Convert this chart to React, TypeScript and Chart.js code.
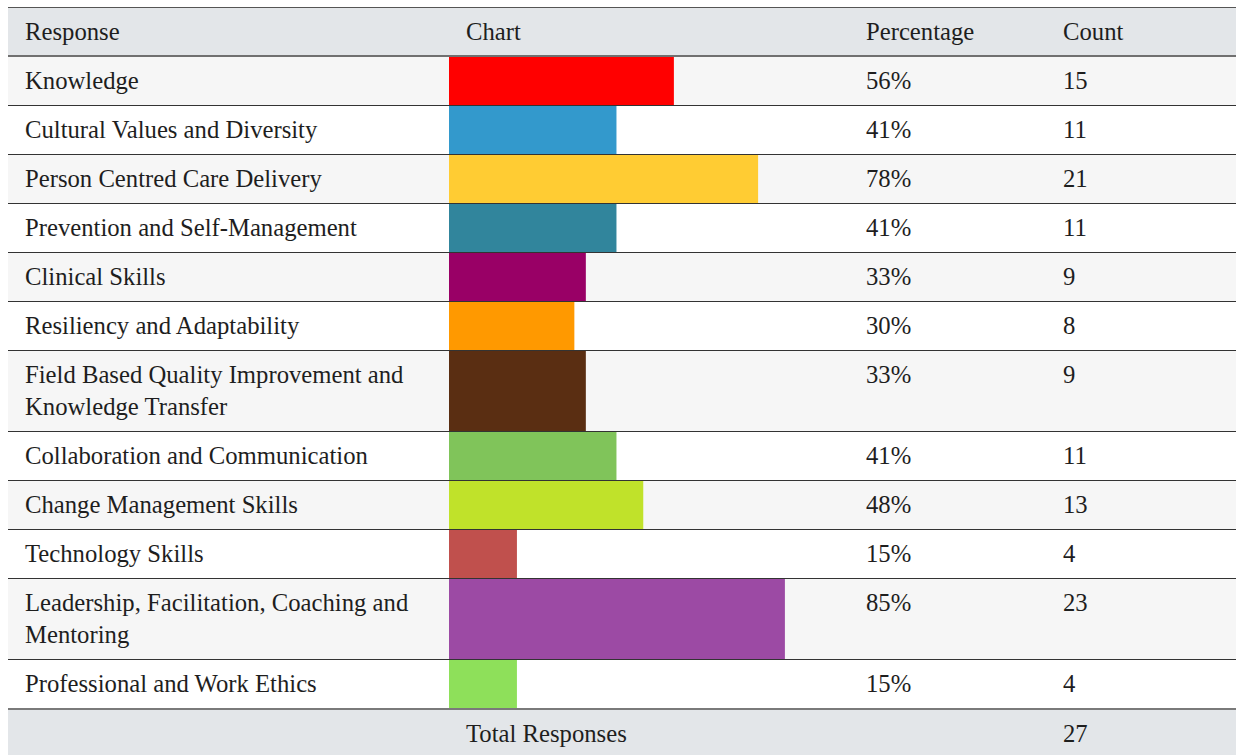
import React, { useEffect, useRef } from "react";
import { Chart, registerables } from "chart.js";

Chart.register(...registerables);

const headers = ["Response", "Chart", "Percentage", "Count"];
const responses = [
  "Knowledge",
  "Cultural Values and Diversity",
  "Person Centred Care Delivery",
  "Prevention and Self-Management",
  "Clinical Skills",
  "Resiliency and Adaptability",
  "Field Based Quality Improvement and Knowledge Transfer",
  "Collaboration and Communication",
  "Change Management Skills",
  "Technology Skills",
  "Leadership, Facilitation, Coaching and Mentoring",
  "Professional and Work Ethics",
];
const percentages = [56, 41, 78, 41, 33, 30, 33, 41, 48, 15, 85, 15];
const counts = [15, 11, 21, 11, 9, 8, 9, 11, 13, 4, 23, 4];
const barColors = [
  "#ff0000",
  "#3399cc",
  "#ffcc33",
  "#31859c",
  "#990066",
  "#ff9900",
  "#5a2e12",
  "#80c45a",
  "#c0e22a",
  "#c0504d",
  "#9c4aa4",
  "#8ee05a",
];
const totalLabel = "Total Responses";
const totalCount = 27;

// value axis range: the reference bars start with a small stub before 0%
const X_MIN = -2.66;
const X_MAX = 100;

const FONT = '"Liberation Serif", Tinos, "DejaVu Serif"';
const COL_WIDTHS = [441, 400, 197, 190];
const TEXT_COLOR = "#1e1e1e";

function BarCell({ value, color }: { value: number; color: string }) {
  const ref = useRef<HTMLCanvasElement | null>(null);
  useEffect(() => {
    if (!ref.current) return;
    const chart = new Chart(ref.current, {
      type: "bar",
      data: {
        labels: [""],
        datasets: [
          {
            data: [value],
            backgroundColor: color,
            base: X_MIN,
            barPercentage: 1,
            categoryPercentage: 1,
            borderWidth: 0,
          } as any,
        ],
      },
      options: {
        indexAxis: "y",
        animation: false,
        responsive: true,
        maintainAspectRatio: false,
        events: [],
        layout: { padding: 0 },
        plugins: { legend: { display: false }, tooltip: { enabled: false } },
        scales: {
          x: { type: "linear", min: X_MIN, max: X_MAX, display: false },
          y: { display: false },
        },
      },
    });
    return () => chart.destroy();
  }, [value, color]);
  return (
    <div style={{ position: "absolute", left: 0, top: 0, bottom: 0, width: 393 }}>
      <canvas ref={ref} />
    </div>
  );
}

const cellText: React.CSSProperties = {
  boxSizing: "border-box",
  paddingLeft: 17,
  paddingRight: 12,
  paddingTop: 8,
  paddingBottom: 8,
  lineHeight: "32px",
  fontSize: "24.7px",
  fontFamily: FONT,
  color: TEXT_COLOR,
  position: "relative",
};

export default function App() {
  return (
    <div
      style={{
        position: "fixed",
        inset: 0,
        overflow: "hidden",
        background: "#ffffff",
        fontFamily: FONT,
      }}
    >
      <div
        style={{
          position: "absolute",
          left: 8,
          top: 7,
          width: 1228,
          borderTop: "1px solid #555555",
        }}
      >
        {/* header */}
        <div
          style={{
            display: "flex",
            background: "#e3e6e9",
            height: 49,
            boxSizing: "border-box",
            borderBottom: "2px solid #707070",
          }}
        >
          {headers.map((h, i) => (
            <div key={h} style={{ ...cellText, width: COL_WIDTHS[i] }}>
              {h}
            </div>
          ))}
        </div>
        {/* body */}
        {responses.map((r, i) => (
          <div
            key={r}
            style={{
              display: "flex",
              alignItems: "stretch",
              background: i % 2 === 0 ? "#f6f6f6" : "#ffffff",
              borderBottom: i === responses.length - 1 ? "none" : "1px solid #333333",
            }}
          >
            <div style={{ ...cellText, width: COL_WIDTHS[0] }}>{r}</div>
            <div style={{ position: "relative", width: COL_WIDTHS[1] }}>
              <BarCell value={percentages[i]} color={barColors[i]} />
            </div>
            <div style={{ ...cellText, width: COL_WIDTHS[2] }}>{percentages[i]}%</div>
            <div style={{ ...cellText, width: COL_WIDTHS[3] }}>{counts[i]}</div>
          </div>
        ))}
        {/* footer */}
        <div
          style={{
            display: "flex",
            background: "#e3e6e9",
            height: 60,
            boxSizing: "border-box",
            borderTop: "2px solid #7a7a7a",
          }}
        >
          <div style={{ ...cellText, width: COL_WIDTHS[0] }}></div>
          <div style={{ ...cellText, width: COL_WIDTHS[1] }}>{totalLabel}</div>
          <div style={{ ...cellText, width: COL_WIDTHS[2] }}></div>
          <div style={{ ...cellText, width: COL_WIDTHS[3] }}>{totalCount}</div>
        </div>
      </div>
    </div>
  );
}
